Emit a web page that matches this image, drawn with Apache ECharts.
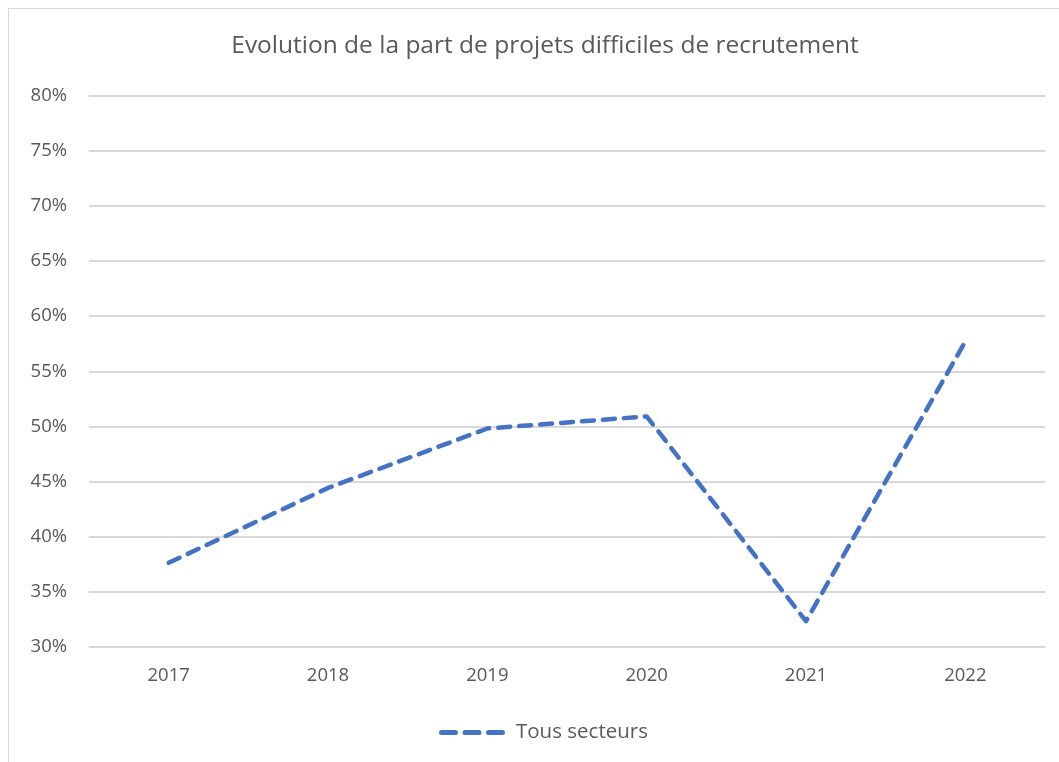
<!DOCTYPE html>
<html>
<head>
<meta charset="utf-8">
<script src="https://cdn.jsdelivr.net/npm/echarts@6/dist/echarts.min.js"></script>
<style>
  html, body { margin: 0; padding: 0; background: #fff; }
  #frame { position: absolute; left: 8px; top: 8px; width: 1051px; height: 754px; border-top: 1px solid #d9d9d9; border-left: 1px solid #d9d9d9; box-sizing: border-box; }
  #chart { position: absolute; left: 0; top: 0; width: 1059px; height: 762px; }
</style>
</head>
<body>
<div id="frame"></div>
<div id="chart"></div>
<script>
const years = ['2017', '2018', '2019', '2020', '2021', '2022']
const tousSecteurs = [37.6, 44.4, 49.8, 50.9, 32.3, 57.7]
const seriesName = 'Tous secteurs'

const chart = echarts.init(document.getElementById('chart'))
const font = '"Open Sans", "Liberation Sans", sans-serif'

// three rounded dashes for the legend marker
const dashIcon =
  'path://M2.5,0 h14 a2.5,2.5 0 0 1 0,5 h-14 a2.5,2.5 0 0 1 0,-5 z ' +
  'M26,0 h14 a2.5,2.5 0 0 1 0,5 h-14 a2.5,2.5 0 0 1 0,-5 z ' +
  'M49.5,0 h14 a2.5,2.5 0 0 1 0,5 h-14 a2.5,2.5 0 0 1 0,-5 z'

chart.setOption({
  animation: false,
  title: {
    text: 'Evolution de la part de projets difficiles de recrutement',
    left: 540,
    top: 29,
    textAlign: 'center',
    textStyle: { color: '#595959', fontSize: 24.5, fontWeight: 'normal', fontFamily: font },
  },
  grid: { left: 89, right: 14, top: 96, bottom: 115.5 },
  legend: {
    data: [{ name: seriesName, icon: dashIcon }],
    bottom: 14,
    left: 434,
    itemWidth: 66,
    itemHeight: 5,
    itemGap: 10,
    textStyle: { color: '#595959', fontSize: 20.5, fontFamily: font, padding: [0, 0, 0, 6] },
  },
  xAxis: {
    type: 'category',
    data: years,
    boundaryGap: true,
    axisLine: { show: false },
    axisTick: { show: false },
    axisLabel: { color: '#595959', fontSize: 18.5, fontFamily: font, margin: 20 },
  },
  yAxis: {
    type: 'value',
    min: 30,
    max: 80,
    interval: 5,
    axisLine: { show: false },
    axisTick: { show: false },
    axisLabel: { color: '#595959', fontSize: 18.5, fontFamily: font, margin: 22, formatter: '{value}%' },
    splitLine: { lineStyle: { color: '#d9d9d9', width: 2 } },
  },
  series: [
    {
      name: seriesName,
      type: 'line',
      data: tousSecteurs,
      symbol: 'none',
      color: '#4472c4',
      itemStyle: { color: '#4472c4' },
      lineStyle: { color: '#4472c4', width: 4.5, type: [12, 9], cap: 'round', join: 'round' },
    },
  ],
})
</script>
</body>
</html>
